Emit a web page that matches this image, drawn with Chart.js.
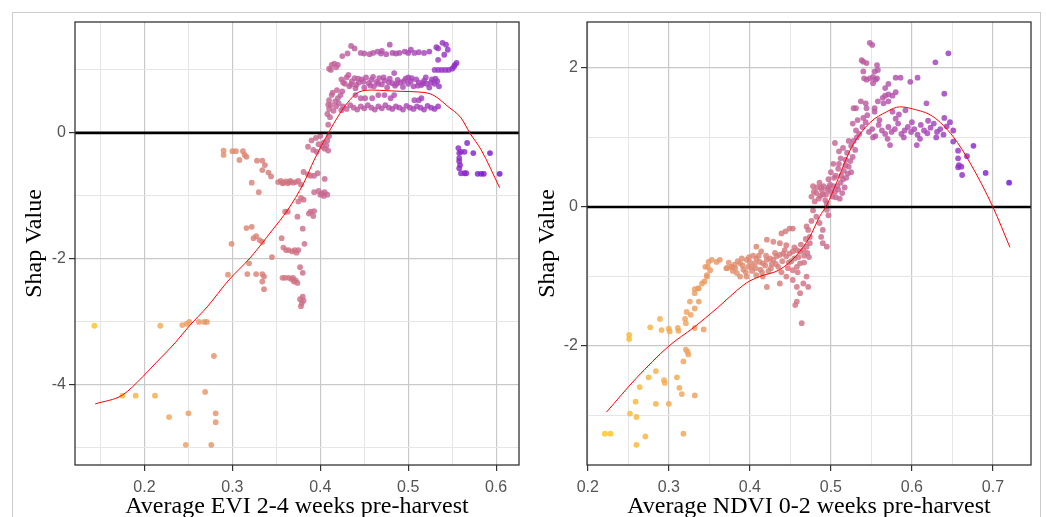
<!DOCTYPE html>
<html>
<head>
<meta charset="utf-8">
<script src="https://cdn.jsdelivr.net/npm/chart.js@4.4.0/dist/chart.umd.min.js"></script>
<style>
  body { margin: 0; background: #fff; width: 1046px; height: 517px; overflow: hidden; position: relative; }
  #moldura { position: absolute; left: 12px; top: 12px; width: 1029px; height: 530px; border: 1.5px solid #cccccc; box-sizing: border-box; }
  canvas { position: absolute; top: 0; }
  #grafEvi { left: 0; }
  #grafNdvi { left: 523px; }
</style>
</head>
<body>
<div id="moldura"></div>
<canvas id="grafEvi" width="523" height="517"></canvas>
<canvas id="grafNdvi" width="523" height="517"></canvas>
<script>
// ---------- dados: EVI 2-4 semanas (painel esquerdo) ----------
const eviPontos = [
  [0.143,-3.06],[0.218,-3.06],[0.243,-3.05],[0.248,-3.03],[0.251,-3.00],[0.262,-3.00],[0.268,-3.00],[0.271,-3.00],
  [0.279,-3.54],[0.175,-4.17],[0.190,-4.17],[0.212,-4.17],[0.269,-4.11],[0.228,-4.51],[0.250,-4.45],[0.281,-4.45],
  [0.281,-4.59],[0.247,-4.95],[0.276,-4.95],
  [0.290,-0.28],[0.290,-0.35],[0.300,-0.29],[0.304,-0.29],[0.312,-0.29],[0.314,-0.35],[0.316,-0.38],[0.308,-0.43],
  [0.328,-0.44],[0.334,-0.44],[0.337,-0.51],[0.334,-0.59],[0.341,-0.63],[0.344,-0.69],[0.322,-0.79],[0.330,-0.94],
  [0.352,-0.78],[0.355,-0.76],[0.358,-0.79],[0.361,-0.77],[0.363,-0.80],[0.366,-0.76],[0.369,-0.79],[0.372,-0.78],
  [0.375,-0.76],[0.378,-0.82],[0.357,-0.80],[0.365,-0.78],
  [0.381,-0.62],[0.386,-0.66],[0.389,-0.68],[0.393,-0.68],[0.397,-0.64],
  [0.386,-0.22],[0.390,-0.12],[0.395,-0.08],[0.398,-0.18],[0.402,-0.22],[0.405,-0.25],[0.407,-0.20],[0.392,-0.27],
  [0.400,-0.05],[0.409,-0.28],[0.396,-0.30],[0.404,-0.15],[0.409,0.13],[0.410,-0.05],[0.408,-0.12],
  [0.405,-0.73],[0.393,-0.94],[0.398,-0.92],[0.402,-0.96],[0.405,-0.94],[0.408,-0.98],[0.404,-1.00],[0.400,-0.98],
  [0.381,-1.06],[0.375,-1.09],[0.378,-1.03],[0.389,-1.25],[0.393,-1.24],[0.387,-1.28],[0.392,-1.32],
  [0.363,-1.25],[0.360,-1.25],[0.374,-1.33],[0.380,-1.52],[0.316,-1.51],[0.322,-1.49],
  [0.324,-1.67],[0.327,-1.64],[0.331,-1.70],[0.334,-1.73],[0.299,-1.76],[0.356,-1.67],
  [0.358,-1.82],[0.361,-1.86],[0.364,-1.86],[0.368,-1.88],[0.371,-1.86],[0.373,-1.90],[0.375,-1.86],
  [0.382,-1.76],[0.345,-1.97],[0.319,-2.07],[0.295,-2.25],[0.317,-2.24],[0.327,-2.24],[0.334,-2.24],[0.336,-2.28],
  [0.334,-2.36],[0.336,-2.48],[0.357,-2.30],[0.360,-2.30],[0.364,-2.30],[0.367,-2.32],[0.370,-2.36],[0.372,-2.34],
  [0.374,-2.38],[0.369,-2.30],[0.377,-2.13],[0.380,-2.22],
  [0.377,-2.64],[0.379,-2.70],[0.381,-2.66],[0.378,-2.75],[0.380,-2.60],
  // faixa superior
  [0.425,1.22],[0.431,1.26],[0.435,1.38],[0.439,1.34],[0.446,1.27],[0.456,1.25],[0.460,1.27],[0.465,1.29],
  [0.469,1.26],[0.475,1.25],[0.479,1.40],[0.486,1.26],[0.490,1.27],[0.496,1.29],[0.500,1.27],[0.503,1.32],
  [0.507,1.27],[0.518,1.27],[0.524,1.29],[0.532,1.36],[0.534,1.34],[0.539,1.43],[0.543,1.40],[0.545,1.32],
  [0.541,1.24],[0.534,1.16],[0.450,1.26],[0.482,1.27],[0.512,1.28],[0.470,1.30],
  [0.530,1.00],[0.534,1.00],[0.538,1.00],[0.542,1.00],[0.546,1.00],[0.550,1.02],[0.552,1.05],[0.555,1.11],[0.553,1.08],
  [0.410,1.02],[0.413,1.08],[0.416,1.10],[0.420,1.08],[0.412,1.00],[0.418,1.04],
  // faixa do meio
  [0.424,0.85],[0.428,0.78],[0.430,0.88],[0.433,0.74],[0.436,0.82],[0.439,0.87],[0.441,0.76],[0.444,0.80],
  [0.447,0.85],[0.450,0.72],[0.452,0.88],[0.455,0.79],[0.458,0.84],[0.461,0.74],[0.464,0.81],[0.467,0.87],
  [0.470,0.77],[0.473,0.83],[0.476,0.72],[0.479,0.86],[0.482,0.79],[0.485,0.75],[0.488,0.84],[0.491,0.80],
  [0.494,0.73],[0.497,0.86],[0.500,0.78],[0.503,0.82],[0.506,0.74],[0.509,0.85],[0.512,0.80],[0.515,0.76],
  [0.518,0.83],[0.521,0.78],[0.524,0.72],[0.527,0.85],[0.530,0.78],[0.533,0.82],[0.535,0.74],[0.432,0.92],
  [0.484,0.95],[0.440,0.71],[0.460,0.89],[0.500,0.88],[0.520,0.88],
  [0.426,0.80],[0.435,0.77],[0.443,0.86],[0.449,0.81],[0.457,0.75],[0.466,0.78],[0.472,0.88],[0.478,0.80],
  [0.487,0.78],[0.495,0.82],[0.504,0.87],[0.511,0.75],[0.517,0.79],[0.526,0.80],[0.531,0.86],
  // faixa de baixo
  [0.426,0.42],[0.430,0.38],[0.434,0.44],[0.438,0.40],[0.442,0.37],[0.446,0.42],[0.450,0.39],[0.454,0.44],
  [0.458,0.40],[0.462,0.37],[0.466,0.42],[0.470,0.39],[0.474,0.44],[0.478,0.40],[0.482,0.38],[0.486,0.42],
  [0.490,0.40],[0.494,0.37],[0.498,0.43],[0.502,0.40],[0.506,0.38],[0.510,0.42],[0.514,0.40],[0.518,0.37],
  [0.522,0.43],[0.526,0.40],[0.530,0.38],[0.534,0.42],
  [0.410,0.52],[0.413,0.60],[0.417,0.50],[0.420,0.55],[0.423,0.60],[0.440,0.60],[0.446,0.55],[0.451,0.55],
  [0.459,0.55],[0.466,0.60],[0.473,0.60],[0.480,0.55],[0.484,0.60],[0.507,0.52],[0.512,0.52],[0.515,0.55],
  [0.408,0.30],[0.410,0.38],[0.412,0.44],[0.415,0.35],[0.418,0.42],[0.421,0.47],[0.424,0.36],[0.414,0.64],
  [0.419,0.68],[0.425,0.66],[0.409,0.45],[0.411,0.25],
  // grupo roxo abaixo de zero
  [0.557,-0.24],[0.560,-0.30],[0.564,-0.30],[0.558,-0.32],[0.567,-0.16],[0.574,-0.32],[0.593,-0.32],[0.558,-0.40],
  [0.558,-0.45],[0.559,-0.51],[0.558,-0.56],[0.560,-0.64],[0.564,-0.64],[0.566,-0.64],[0.579,-0.65],[0.583,-0.65],
  [0.586,-0.65],[0.604,-0.65]
];
const eviCurvaX = [0.144,0.175,0.198,0.213,0.235,0.250,0.272,0.295,0.321,0.345,0.363,0.381,0.393,0.410,0.421,0.431,0.444,0.460,0.475,0.492,0.511,0.525,0.534,0.545,0.560,0.570,0.583,0.604];
const eviCurvaY = [-4.30,-4.16,-3.87,-3.65,-3.33,-3.08,-2.75,-2.35,-1.97,-1.55,-1.22,-0.80,-0.43,0.02,0.28,0.48,0.65,0.68,0.67,0.66,0.65,0.62,0.55,0.42,0.24,0.0,-0.27,-0.87];
const eviXMaiores = [0.2,0.3,0.4,0.5,0.6];
const eviXMenores = [0.15,0.25,0.35,0.45,0.55];
const eviYMaiores = [-4,-2,0];
const eviYMenores = [-5,-3,-1,1];

// ---------- dados: NDVI 0-2 semanas (painel direito) ----------
const ndviPontos = [
  [0.251,-1.84],[0.251,-1.90],[0.221,-3.26],[0.228,-3.26],[0.260,-3.42],[0.271,-3.30],[0.318,-3.26],
  [0.252,-2.97],[0.260,-3.02],[0.259,-2.80],[0.264,-2.59],[0.275,-2.45],[0.284,-2.36],[0.284,-2.83],
  [0.294,-2.49],[0.295,-2.53],[0.300,-2.83],[0.310,-2.45],[0.313,-2.60],[0.316,-2.69],[0.332,-2.71],
  [0.318,-2.22],[0.321,-2.05],[0.323,-2.08],[0.324,-2.12],[0.277,-1.73],[0.289,-1.61],[0.291,-1.77],
  [0.300,-1.75],[0.301,-1.79],[0.311,-1.74],[0.312,-1.78],[0.320,-1.61],[0.321,-1.67],[0.332,-1.74],
  [0.343,-1.76],[0.327,-1.55],[0.332,-1.46],[0.337,-1.36],[0.332,-1.18],[0.337,-1.17],[0.341,-1.10],
  [0.344,-1.07],[0.345,-0.86],[0.348,-0.86],[0.347,-0.98],[0.349,-0.79],[0.353,-0.76],[0.359,-0.79],
  [0.363,-0.76],[0.351,-0.91],[0.347,-1.00],[0.336,-1.17],[0.332,-1.24],[0.326,-1.36],[0.322,-1.51],
  [0.372,-0.88],[0.378,-0.86],[0.382,-0.88],
  // faixa central
  [0.371,-0.88],[0.377,-0.86],[0.381,-0.83],[0.388,-0.81],[0.390,-0.74],[0.396,-0.76],[0.400,-0.79],[0.402,-0.86],
  [0.406,-0.81],[0.408,-0.74],[0.412,-0.79],[0.416,-0.81],[0.421,-0.76],[0.425,-0.74],[0.429,-0.76],[0.433,-0.71],
  [0.437,-0.69],[0.441,-0.67],[0.445,-0.71],[0.449,-0.67],[0.453,-0.64],[0.458,-0.62],[0.462,-0.64],[0.466,-0.62],
  [0.470,-0.57],[0.474,-0.52],[0.474,-0.43],[0.472,-0.33],[0.470,-0.28],[0.384,-0.95],[0.388,-1.00],[0.396,-1.00],
  [0.408,-0.98],[0.416,-1.00],[0.421,-1.15],[0.437,-1.10],[0.445,-1.00],[0.453,-0.91],[0.458,-0.86],[0.462,-0.81],
  [0.408,-0.57],[0.414,-0.64],[0.421,-0.47],[0.429,-0.50],[0.437,-0.52],[0.445,-0.55],[0.449,-0.31],[0.453,-0.31],
  [0.439,-0.38],[0.444,-0.35],[0.420,-0.70],[0.432,-0.82],[0.440,-0.78],[0.448,-0.80],[0.455,-0.74],[0.460,-0.72],
  [0.467,-0.70],[0.398,-0.86],[0.404,-0.70],[0.426,-0.88],[0.413,-0.90],[0.392,-0.90],
  [0.374,-0.80],[0.379,-0.92],[0.385,-0.78],[0.391,-0.84],[0.395,-0.94],[0.399,-0.72],[0.403,-0.92],[0.407,-0.88],
  [0.411,-0.70],[0.415,-0.94],[0.419,-0.84],[0.423,-0.92],[0.427,-0.82],[0.431,-0.66],[0.435,-0.86],[0.439,-0.94],
  [0.443,-0.62],[0.447,-0.88],[0.451,-0.78],[0.455,-0.58],[0.459,-0.94],[0.463,-0.54],[0.467,-0.80],[0.469,-0.46],
  [0.471,-0.66],[0.473,-0.72],
  [0.453,-1.05],[0.458,-1.15],[0.462,-1.24],[0.466,-1.10],[0.470,-1.00],[0.472,-1.15],[0.458,-1.36],[0.456,-1.41],
  [0.464,-1.67],
  // perto de zero
  [0.478,0.30],[0.482,0.20],[0.485,0.12],[0.488,0.28],[0.490,0.18],[0.493,0.10],[0.496,0.25],[0.499,0.32],
  [0.502,0.15],[0.505,0.22],[0.508,0.30],[0.511,0.12],[0.514,0.20],[0.517,0.28],[0.476,0.15],[0.486,0.35],
  [0.495,0.05],[0.480,0.08],[0.482,-0.14],[0.486,-0.23],[0.490,-0.33],[0.488,-0.43],[0.490,-0.52],[0.495,-0.57],
  [0.495,-0.04],[0.497,-0.12],[0.478,-0.05],[0.476,-0.20],
  [0.479,0.22],[0.483,0.28],[0.487,0.16],[0.489,0.24],[0.491,0.30],[0.494,0.18],[0.497,0.28],[0.500,0.22],
  [0.503,0.30],[0.506,0.14],[0.509,0.25],[0.512,0.35],[0.513,0.45],[0.516,0.52],[0.519,0.42],[0.522,0.58],
  [0.525,0.50],[0.518,0.68],[0.510,0.62],[0.504,0.42],
  [0.497,0.40],[0.500,0.50],[0.503,0.62],[0.506,0.45],[0.509,0.55],[0.512,0.70],[0.515,0.40],[0.518,0.60],
  [0.521,0.48],[0.524,0.66],[0.505,0.92],[0.510,0.80],[0.515,0.85],[0.520,0.78],[0.525,0.88],[0.528,0.95],
  [0.530,0.82],[0.527,0.72],[0.532,1.00],[0.522,0.95],
  // topo
  [0.548,2.36],[0.551,2.33],[0.540,2.09],[0.544,2.07],[0.538,2.11],[0.557,2.04],[0.558,1.97],[0.554,1.95],
  [0.540,1.95],[0.541,1.85],[0.544,1.83],[0.548,1.85],[0.552,1.87],[0.555,1.83],[0.557,1.85],[0.552,1.78],
  [0.645,2.21],[0.629,2.08],[0.580,1.86],[0.586,1.86],[0.598,1.80],[0.607,1.86],[0.571,1.77],[0.567,1.71],
  [0.580,1.65],[0.576,1.60],[0.571,1.62],[0.567,1.60],[0.564,1.57],[0.640,1.63],[0.618,1.49],
  [0.537,1.52],[0.543,1.49],[0.558,1.52],[0.565,1.49],[0.571,1.52],[0.554,1.42],[0.544,1.42],[0.528,1.42],
  [0.554,1.37],[0.576,1.37],[0.584,1.33],[0.592,1.39],[0.531,1.42],
  // faixa roxa
  [0.527,1.20],[0.531,1.10],[0.535,1.05],[0.539,1.15],[0.543,1.22],[0.547,1.08],[0.551,1.12],[0.555,1.02],
  [0.559,1.18],[0.563,1.10],[0.567,1.05],[0.571,1.15],[0.575,1.08],[0.579,1.12],[0.583,1.20],[0.587,1.05],
  [0.591,1.10],[0.595,1.15],[0.599,1.08],[0.603,1.12],[0.607,1.04],[0.611,1.18],[0.615,1.10],[0.619,1.06],
  [0.623,1.14],[0.627,1.20],[0.631,1.08],[0.635,1.12],[0.639,1.04],[0.643,1.16],[0.647,1.22],[0.651,1.10],
  [0.540,1.28],[0.560,1.25],[0.580,1.27],[0.600,1.22],[0.620,1.24],[0.640,1.28],[0.552,1.00],[0.570,0.98],
  [0.590,1.00],[0.610,0.98],[0.630,1.00],[0.545,1.32],[0.533,1.25],
  [0.573,0.89],[0.606,0.89],[0.651,0.94],[0.676,0.88],[0.657,0.81],[0.668,0.73],[0.657,0.70],[0.658,0.60],
  [0.661,0.58],[0.657,0.57],[0.662,0.46],[0.691,0.49],[0.720,0.35]
];
const ndviCurvaX = [0.223,0.260,0.300,0.331,0.360,0.384,0.396,0.412,0.437,0.458,0.474,0.486,0.495,0.507,0.520,0.527,0.548,0.569,0.585,0.601,0.626,0.651,0.672,0.700,0.721];
const ndviCurvaY = [-2.95,-2.46,-2.00,-1.73,-1.45,-1.20,-1.09,-1.00,-0.90,-0.69,-0.43,-0.14,0.03,0.35,0.72,0.89,1.21,1.37,1.44,1.41,1.30,1.01,0.63,0.00,-0.58];
const ndviXMaiores = [0.2,0.3,0.4,0.5,0.6,0.7];
const ndviXMenores = [0.25,0.35,0.45,0.55,0.65];
const ndviYMaiores = [-2,0,2];
const ndviYMenores = [-3,-1,1];

// ---------- cores (amarelo -> roxo) ----------
const paradas = [
  [0.00, [255,196,31]],
  [0.20, [240,163,92]],
  [0.45, [212,120,124]],
  [0.62, [192,94,156]],
  [0.80, [166,68,184]],
  [1.00, [116,18,216]]
];
function corDe(t) {
  t = Math.max(0, Math.min(1, t));
  for (let i = 1; i < paradas.length; i++) {
    if (t <= paradas[i][0]) {
      let a = paradas[i-1], b = paradas[i];
      let f = (t - a[0]) / (b[0] - a[0]);
      let c = a[1].map((v, k) => Math.round(v + (b[1][k] - v) * f));
      return 'rgba(' + c.join(',') + ',0.82)';
    }
  }
  return 'rgba(116,18,216,0.82)';
}

// moldura do painel (estilo theme_bw)
const moldura = {
  id: 'moldura',
  afterDraw(chart) {
    let a = chart.chartArea;
    let ctx = chart.ctx;
    ctx.save();
    ctx.strokeStyle = '#333333';
    ctx.lineWidth = 1.3;
    ctx.strokeRect(a.left, a.top, a.right - a.left, a.bottom - a.top);
    ctx.restore();
  }
};

function ehMaior(v, lista) {
  return lista.some(m => Math.abs(m - v) < 1e-9);
}

function eixo(cfg) {
  return {
    type: 'linear',
    position: cfg.pos,
    min: cfg.min,
    max: cfg.max,
    afterBuildTicks: (s) => {
      s.ticks = cfg.maiores.concat(cfg.menores).sort((a, b) => a - b).map(v => ({ value: v }));
    },
    afterFit: (s) => {
      if (cfg.pos === 'left') s.width = cfg.tam; else s.height = cfg.tam;
    },
    border: { display: false },
    grid: {
      color: (c) => ehMaior(c.tick.value, cfg.maiores) ? '#c9c9c9' : '#e6e6e6',
      lineWidth: (c) => ehMaior(c.tick.value, cfg.maiores) ? 1.2 : 1,
      tickColor: (c) => ehMaior(c.tick.value, cfg.maiores) ? '#333333' : 'rgba(0,0,0,0)',
      tickLength: 6
    },
    ticks: {
      autoSkip: false,
      maxRotation: 0,
      padding: cfg.pos === 'left' ? 3 : 7,
      color: '#555555',
      font: { family: 'Liberation Sans', size: 16 },
      callback: (v) => ehMaior(v, cfg.maiores) ? String(v) : ''
    },
    title: {
      display: true,
      text: cfg.titulo,
      color: '#000',
      font: { family: 'Liberation Serif', size: 24 },
      padding: cfg.titPad
    }
  };
}

function criarPainel(id, p) {
  let xmin = p.x.min, xmax = p.x.max;
  let pts = p.pontos.map(d => ({ x: d[0], y: d[1] }));
  let curva = p.curvaX.map((x, i) => ({ x: x, y: p.curvaY[i] }));

  new Chart(document.getElementById(id).getContext('2d'), {
    type: 'scatter',
    data: {
      datasets: [
        {
          data: curva, showLine: true, borderColor: '#ff0000', borderWidth: 1,
          pointRadius: 0, cubicInterpolationMode: 'monotone', order: 0
        },
        {
          data: [{ x: xmin, y: 0 }, { x: xmax, y: 0 }], showLine: true,
          borderColor: '#000', borderWidth: 2.6, pointRadius: 0, order: 1
        },
        {
          data: pts, order: 2, pointRadius: 2.9, borderWidth: 0,
          backgroundColor: (c) => c.raw ? corDe((c.raw.x - p.cor[0]) / (p.cor[1] - p.cor[0])) : '#000'
        }
      ]
    },
    options: {
      responsive: false,
      animation: false,
      layout: { padding: { top: 22, right: p.dir, left: 0, bottom: 0 } },
      plugins: { legend: { display: false }, tooltip: { enabled: false } },
      scales: {
        x: eixo({ pos: 'bottom', min: xmin, max: xmax, maiores: p.x.maiores, menores: p.x.menores,
                  tam: 52, titulo: p.x.titulo, titPad: { top: 0, bottom: -4 } }),
        y: eixo({ pos: 'left', min: p.y.min, max: p.y.max, maiores: p.y.maiores, menores: p.y.menores,
                  tam: p.y.tam, titulo: 'Shap Value', titPad: { top: p.y.titTop, bottom: 0 } })
      }
    },
    plugins: [moldura]
  });
}

criarPainel('grafEvi', {
  pontos: eviPontos, curvaX: eviCurvaX, curvaY: eviCurvaY, cor: [0.143, 0.604], dir: 4,
  x: { min: 0.121, max: 0.626, maiores: eviXMaiores, menores: eviXMenores, titulo: 'Average EVI 2-4 weeks pre-harvest' },
  y: { min: -5.27, max: 1.76, maiores: eviYMaiores, menores: eviYMenores, tam: 75, titTop: 20 }
});

criarPainel('grafNdvi', {
  pontos: ndviPontos, curvaX: ndviCurvaX, curvaY: ndviCurvaY, cor: [0.221, 0.720], dir: 15,
  x: { min: 0.199, max: 0.747, maiores: ndviXMaiores, menores: ndviXMenores, titulo: 'Average NDVI 0-2 weeks pre-harvest' },
  y: { min: -3.71, max: 2.66, maiores: ndviYMaiores, menores: ndviYMenores, tam: 64, titTop: 10 }
});
</script>
</body>
</html>
